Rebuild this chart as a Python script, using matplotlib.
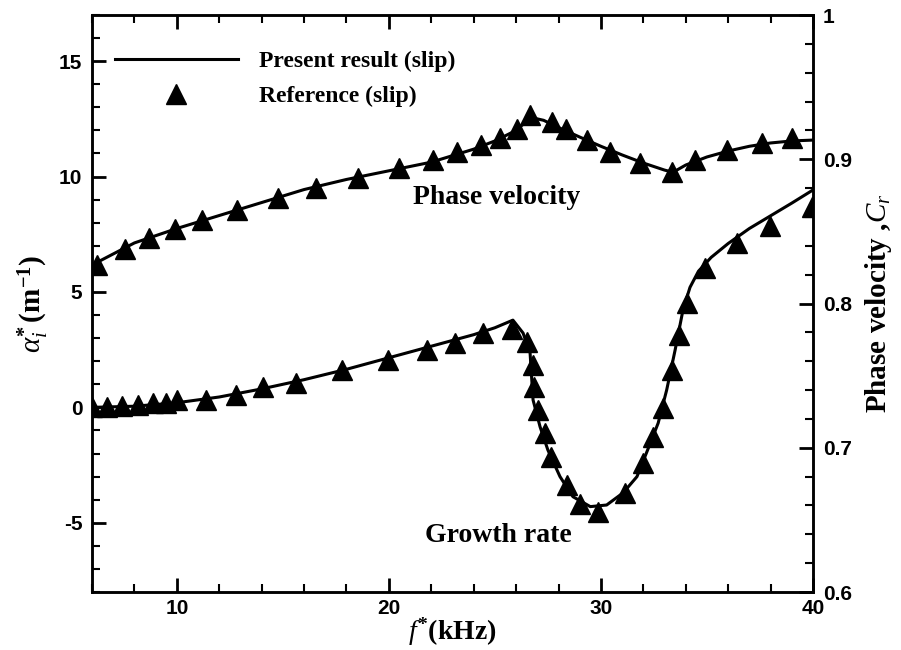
import matplotlib
matplotlib.use("Agg")
import matplotlib.pyplot as plt
from matplotlib.ticker import MultipleLocator, FuncFormatter

# Growth rate alpha_i* (left axis), present computation
f_growth_line = [6.0, 8.0, 10.0, 12.0, 14.0, 16.0, 18.0, 20.0, 22.0, 24.0, 25.0,
                 25.85, 26.33, 26.66, 26.73, 26.8, 27.13, 27.5, 28.07, 28.68, 29.5,
                 30.27, 31.05, 31.7, 32.2, 32.7, 33.1, 33.5, 33.87, 34.2, 34.6,
                 35.2, 36.0, 37.0, 38.0, 39.0, 40.0]
alpha_line = [0.0, 0.05, 0.2, 0.45, 0.8, 1.2, 1.65, 2.15, 2.65, 3.15, 3.45,
              3.78, 3.22, 2.35, 1.33, 0.32, -0.84, -1.85, -3.0, -3.87, -4.3,
              -4.23, -3.7, -3.0, -1.85, -0.68, 0.75, 2.49, 4.22, 5.2, 5.9,
              6.5, 7.1, 7.75, 8.3, 8.85, 9.42]

# Growth rate, reference data
f_growth_ref = [6.0, 6.7, 7.4, 8.15, 8.9, 9.5, 10.0, 11.38, 12.8, 14.08, 15.62,
                17.78, 19.97, 21.78, 23.12, 24.45, 25.79, 26.5, 26.78, 26.84,
                27.05, 27.36, 27.63, 28.41, 29.01, 29.87, 31.13, 31.99, 32.47,
                32.91, 33.34, 33.68, 34.04, 34.91, 36.42, 37.97, 39.95]
alpha_ref = [0.0, 0.03, 0.06, 0.1, 0.19, 0.2, 0.32, 0.32, 0.54, 0.87, 1.04,
             1.62, 2.05, 2.49, 2.8, 3.21, 3.4, 2.85, 1.84, 0.87,
             -0.11, -1.12, -2.14, -3.36, -4.19, -4.52, -3.72, -2.42, -1.27,
             -0.04, 1.62, 3.14, 4.51, 6.04, 7.12, 7.86, 8.68]

# Phase velocity C_r (right axis), present computation
f_phase_line = [6.0, 8.0, 10.0, 12.0, 14.0, 16.0, 18.0, 20.0, 22.0, 24.0, 25.0,
                26.0, 26.7, 27.3, 28.0, 29.0, 30.0, 31.0, 32.0, 33.0, 33.4,
                34.0, 35.0, 36.0, 37.0, 38.0, 39.0, 40.0]
cr_line = [0.8267, 0.842, 0.852, 0.861, 0.870, 0.879, 0.886, 0.892, 0.898,
           0.907, 0.9127, 0.920, 0.929, 0.927, 0.922, 0.9154, 0.909, 0.903,
           0.8974, 0.8925, 0.891, 0.896, 0.9016, 0.9057, 0.909, 0.9113,
           0.9127, 0.9133]

# Phase velocity, reference data
f_phase_ref = [6.24, 7.56, 8.69, 9.9, 11.19, 12.84, 14.77, 16.56, 18.55, 20.5,
               22.1, 23.2, 24.35, 25.25, 26.04, 26.66, 27.7, 28.36, 29.35,
               30.43, 31.85, 33.36, 34.44, 35.95, 37.6, 39.0]
cr_ref = [0.8267, 0.8378, 0.8454, 0.8516, 0.858, 0.865, 0.873, 0.880, 0.887,
          0.894, 0.8995, 0.905, 0.910, 0.9147, 0.921, 0.9307, 0.9258, 0.921,
          0.9133, 0.905, 0.8974, 0.891, 0.8995, 0.9064, 0.9113, 0.9147]

plt.rcParams["axes.unicode_minus"] = False
plt.rcParams["mathtext.fontset"] = "custom"
plt.rcParams["mathtext.rm"] = "Liberation Serif:bold"
plt.rcParams["mathtext.bf"] = "Liberation Serif:bold"
plt.rcParams["mathtext.it"] = "Liberation Serif:italic"

serif = "Liberation Serif"
sans = "Liberation Sans"

fig = plt.figure(figsize=(9.01, 6.5), dpi=100)
ax = fig.add_axes([0.1021, 0.0892, 0.8002, 0.8877])
ax2 = ax.twinx()

lw = 2.2
ms = 14
line_handle, = ax.plot(f_growth_line, alpha_line, color="black", lw=lw, zorder=3,
                       label="Present result (slip)")
marker_handle, = ax.plot(f_growth_ref, alpha_ref, ls="none", marker="^", ms=ms,
                         color="black", zorder=4, label="Reference (slip)")
ax2.plot(f_phase_line, cr_line, color="black", lw=lw, zorder=3)
ax2.plot(f_phase_ref, cr_ref, ls="none", marker="^", ms=ms, color="black", zorder=4)

ax.set_xlim(6, 40)
ax.set_ylim(-8, 17)
ax2.set_ylim(0.6, 1.0)

ax.xaxis.set_major_locator(MultipleLocator(10))
ax.xaxis.set_minor_locator(MultipleLocator(2))
ax.yaxis.set_major_locator(MultipleLocator(5))
ax.yaxis.set_minor_locator(MultipleLocator(1))
ax2.yaxis.set_major_locator(MultipleLocator(0.1))
ax2.yaxis.set_minor_locator(MultipleLocator(0.02))
ax2.yaxis.set_major_formatter(FuncFormatter(lambda v, p: f"{v:g}"))

for a in (ax, ax2):
    for s in a.spines.values():
        s.set_linewidth(1.8)

ax.tick_params(which="both", direction="in", top=True, right=False, width=1.5)
ax.tick_params(which="major", length=10, width=2)
ax.tick_params(which="minor", length=6)
ax.tick_params(axis="y", pad=7)
ax.tick_params(axis="x", pad=5)
ax2.tick_params(which="both", direction="in", left=False, right=True, width=1.5)
ax2.tick_params(which="major", length=10, width=2, pad=7)
ax2.tick_params(which="minor", length=6)

for lab in ax.get_xticklabels() + ax.get_yticklabels() + ax2.get_yticklabels():
    lab.set_fontfamily(sans)
    lab.set_fontweight("bold")
    lab.set_fontsize(15)

ax.set_xlabel(r"$f^{*}$(kHz)", fontfamily=serif, fontweight="bold", fontsize=20,
              labelpad=-2)
ax.set_ylabel(r"$\alpha_i^{*}\,$(m$^{\mathbf{-1}}$)", fontfamily=serif,
              fontweight="bold", fontsize=21, labelpad=6)
ax2.set_ylabel(r"Phase velocity ,$C_r$", fontfamily=serif, fontweight="bold",
               fontsize=21, labelpad=8)

ax.text(25.1, 9.1, "Phase velocity", fontfamily=serif, fontweight="bold",
        fontsize=20, ha="center", va="center")
ax.text(25.15, -5.55, "Growth rate", fontfamily=serif, fontweight="bold",
        fontsize=20, ha="center", va="center")

ax.legend(handles=[line_handle, marker_handle], loc="upper left",
          bbox_to_anchor=(0.032, 0.938), frameon=False,
          prop=dict(family=serif, weight="bold", size=17),
          handlelength=5.2, handletextpad=0.9, labelspacing=0.55,
          borderaxespad=0.0, borderpad=0.0)

fig.savefig("out.png", dpi=100)
